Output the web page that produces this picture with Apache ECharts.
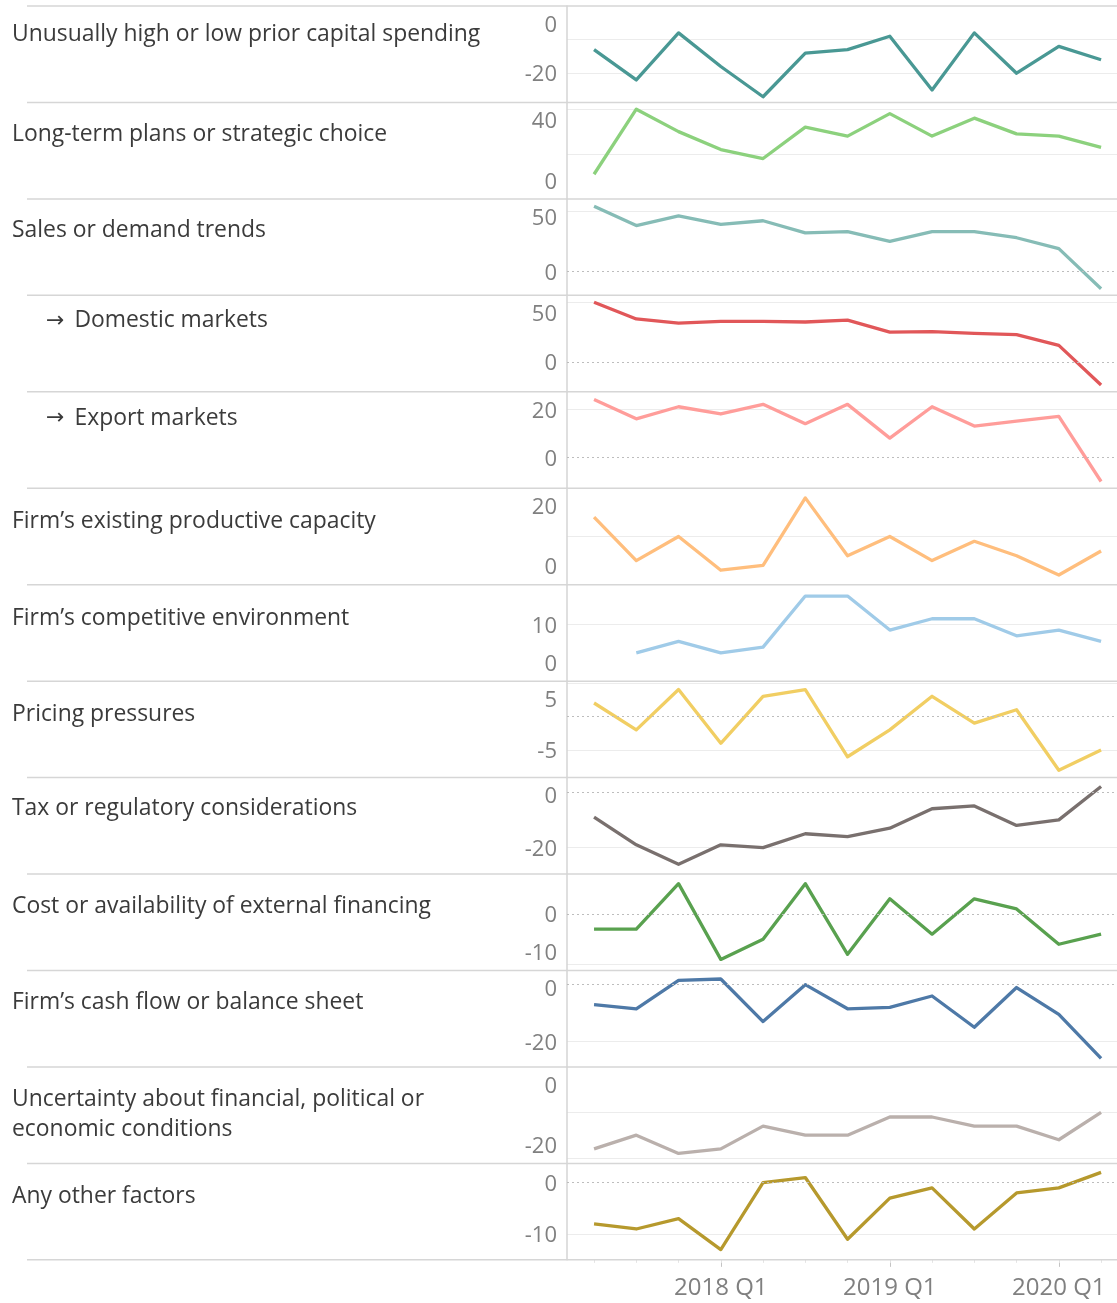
<!DOCTYPE html>
<html>
<head>
<meta charset="utf-8">
<script src="https://cdn.jsdelivr.net/npm/echarts@6/dist/echarts.min.js"></script>
<style>
    html, body { margin: 0; padding: 0; background: #fff; overflow: hidden; }
    #chart { width: 1117px; height: 1303px; }
</style>
</head>
<body>
<div id="chart"></div>
<script>
    // quarters on the x axis
    var quarters = ['2017 Q2', '2017 Q3', '2017 Q4', '2018 Q1', '2018 Q2', '2018 Q3', '2018 Q4',
                    '2019 Q1', '2019 Q2', '2019 Q3', '2019 Q4', '2020 Q1', '2020 Q2'];
    var xTickLabels = ['2018 Q1', '2019 Q1', '2020 Q1'];

    // net balances, one array per factor
    var capitalSpending = [-13, -22, -8, -18, -27, -14, -13, -9, -25, -8, -20, -12, -16];
    var longTermPlans   = [11, 40, 30, 22, 18, 32, 28, 38, 28, 36, 29, 28, 23];
    var salesDemand     = [54, 38, 46, 39, 42, 32, 33, 25, 33, 33, 28, 19, -14];
    var domesticMarkets = [50, 36, 32.5, 34, 34, 33.5, 35, 25, 25.5, 24, 23, 14, -19];
    var exportMarkets   = [24, 16, 21, 18, 22, 14, 22, 8, 21, 13, 15, 17, -10];
    var capacity        = [14, 5, 10, 3, 4, 18, 6, 10, 5, 9, 6, 2, 7];
    var competitive     = [null, 5, 7, 5, 6, 15, 15, 9, 11, 11, 8, 9, 7];
    var pricing         = [2, -2, 4, -4, 3, 4, -6, -2, 3, -1, 1, -8, -5];
    var taxRegulatory   = [-9, -19, -26, -19, -20, -15, -16, -13, -6, -5, -12, -10, 2];
    var extFinancing    = [-3, -3, 6, -9, -5, 6, -8, 3, -4, 3, 1, -6, -4];
    var cashFlow        = [-7, -8.5, 1.5, 2, -13, 0, -8.5, -8, -4, -15, -1, -10.5, -26];
    var uncertainty     = [-18, -15, -19, -18, -13, -15, -15, -11, -11, -13, -13, -16, -10];
    var otherFactors    = [-8, -9, -7, -13, 0, 1, -11, -3, -1, -9, -2, -1, 2];

    var rowNames = [
        'Unusually high or low prior capital spending',
        'Long-term plans or strategic choice',
        'Sales or demand trends',
        '→ Domestic markets',
        '→ Export markets',
        'Firm’s existing productive capacity',
        'Firm’s competitive environment',
        'Pricing pressures',
        'Tax or regulatory considerations',
        'Cost or availability of external financing',
        'Firm’s cash flow or balance sheet',
        'Uncertainty about financial, political or\neconomic conditions',
        'Any other factors'
    ];
    var rowSeries = [capitalSpending, longTermPlans, salesDemand, domesticMarkets, exportMarkets, capacity,
                     competitive, pricing, taxRegulatory, extFinancing, cashFlow, uncertainty, otherFactors];
    var rowColors = ['#499894', '#8cd17d', '#86bcb6', '#e15759', '#ff9d9a', '#ffbe7d', '#a0cbe8',
                     '#f1ce63', '#79706e', '#59a14f', '#4e79a7', '#bab0ac', '#b6992d'];

    // y ranges, gridlines and tick labels of each row
    var yRanges = [[-28.7, 0], [0, 43], [-19.5, 60], [-24.7, 55.7], [-12.8, 27.2], [0, 20], [0, 17],
                   [-9.1, 5.25], [-29.5, 5.2], [-11.2, 7.9], [-29, 5], [-21.2, 0], [-15, 3.75]];
    var gridTicks = [[-10, -20], [20, 40], [50], [50], [20], [10], [10],
                     [5, -5], [-20], [-10], [-20], [-10, -20], [-10]];
    var yLabels = [[0, -20], [40, 0], [50, 0], [50, 0], [20, 0], [20, 0], [10, 0],
                   [5, -5], [0, -20], [0, -10], [0, -20], [0, -20], [0, -10]];

    // layout
    var ROW_TOP = 6, ROW_H = 96.45, PLOT_LEFT = 567;
    var X_MIN = -0.64, X_MAX = 12.377;
    var titleOffsets = [19, 22.3, 22, 15.7, 17, 23.4, 24, 23.7, 21, 22.6, 22.6, 22.7, 23.4];
    var FONT = "'Open Sans', sans-serif";
    var LABEL_GRAY = '#808080';
    var TITLE_STYLE = {fontFamily: FONT, fontSize: 22.9, fontWeight: 'normal', color: '#3b3b3b', lineHeight: 30.5};

    // Tableau pushes edge labels inside the pane
    function labelRich(r) {
        var lo = yRanges[r][0], hi = yRanges[r][1];
        var top = ROW_TOP + r * ROW_H, bottom = top + ROW_H;
        var rich = {};
        yLabels[r].forEach(function (v, k) {
            var py = top + (hi - v) / (hi - lo) * ROW_H;
            var want = Math.min(Math.max(py + 2, top + 19.5), bottom - 16.5);
            var s = want - py;
            rich['l' + k] = {
                fontFamily: FONT, fontSize: 22, color: LABEL_GRAY,
                padding: s >= 0 ? [2 * s, 0, 0, 0] : [0, 0, -2 * s, 0]
            };
        });
        return rich;
    }

    var grids = [], xAxes = [], yAxes = [], series = [], titles = [], lines = [];
    var xLabelIdx = xTickLabels.map(function (q) { return quarters.indexOf(q); });
    var last = rowSeries.length - 1;

    rowSeries.forEach(function (vals, r) {
        var top = ROW_TOP + r * ROW_H;
        var lo = yRanges[r][0], hi = yRanges[r][1];
        grids.push({left: PLOT_LEFT, right: 0, top: top, height: ROW_H, outerBoundsMode: 'none'});
        xAxes.push({
            type: 'value', gridIndex: r, min: X_MIN, max: X_MAX, show: r === last, position: 'bottom',
            axisLine: {show: false, onZero: false},
            splitLine: {show: false},
            axisTick: {show: true, customValues: xLabelIdx, length: 7, lineStyle: {color: '#c4c4c4', width: 1}},
            axisLabel: {
                customValues: xLabelIdx, margin: 16, fontFamily: FONT, fontSize: 24, color: LABEL_GRAY,
                formatter: function (v) { return quarters[v]; }
            }
        });
        yAxes.push({
            type: 'value', gridIndex: r, min: lo, max: hi,
            axisLine: {show: true, onZero: false, lineStyle: {color: '#d4d4d4', width: 1.5}},
            axisTick: {show: false, customValues: gridTicks[r]},
            splitLine: {show: true, lineStyle: {color: '#ececec', width: 1}},
            axisLabel: {
                customValues: yLabels[r], margin: 10, fontFamily: FONT, fontSize: 22, color: LABEL_GRAY,
                formatter: (function (labels) {
                    return function (v) { return '{l' + labels.indexOf(v) + '|' + v + '}'; };
                })(yLabels[r]),
                rich: labelRich(r)
            }
        });
        var s = {
            type: 'line', xAxisIndex: r, yAxisIndex: r, silent: true, animation: false,
            data: vals.map(function (v, i) { return [i, v]; }),
            symbol: 'none', connectNulls: false,
            lineStyle: {color: rowColors[r], width: 3.3, join: 'round'},
            itemStyle: {color: rowColors[r]}
        };
        if (lo < 0 && hi > 0) {
            // dotted zero line
            s.markLine = {
                silent: true, symbol: 'none', animation: false, label: {show: false},
                lineStyle: {color: '#bdbdbd', type: [2, 3], width: 1},
                data: [{yAxis: 0}]
            };
        }
        series.push(s);

        var name = rowNames[r];
        var arrow = name.charAt(0) === '→';
        titles.push({
            text: arrow ? '{a|→}' + name.slice(2) : name,
            left: arrow ? 46 : 12, top: top + titleOffsets[r] - 5.5, padding: 0,
            textStyle: Object.assign({}, TITLE_STYLE, {
                rich: {a: {fontFamily: 'DejaVu Sans', fontSize: 22, color: '#3b3b3b', lineHeight: 30,
                           padding: [0, 10, 0, 0]}}
            })
        });
    });

    // faint minor ticks under every quarter
    xAxes.push({
        type: 'value', gridIndex: last, min: X_MIN, max: X_MAX, position: 'bottom',
        axisLine: {show: false, onZero: false}, splitLine: {show: false}, axisLabel: {show: false},
        axisTick: {show: true, customValues: quarters.map(function (q, i) { return i; }), length: 3,
                   lineStyle: {color: '#e4e4e4', width: 1}}
    });

    // row separators
    for (var r = 0; r <= rowSeries.length; r++) {
        var y = ROW_TOP + r * ROW_H;
        lines.push({
            type: 'line', silent: true, z: 10,
            shape: {x1: 27, y1: y, x2: 1117, y2: y},
            style: {stroke: '#d6d6d6', lineWidth: 1.5}
        });
    }

    var chart = echarts.init(document.getElementById('chart'));
    chart.setOption({
        animation: false,
        backgroundColor: '#ffffff',
        title: titles,
        grid: grids,
        xAxis: xAxes,
        yAxis: yAxes,
        series: series,
        graphic: lines
    });
</script>
</body>
</html>
